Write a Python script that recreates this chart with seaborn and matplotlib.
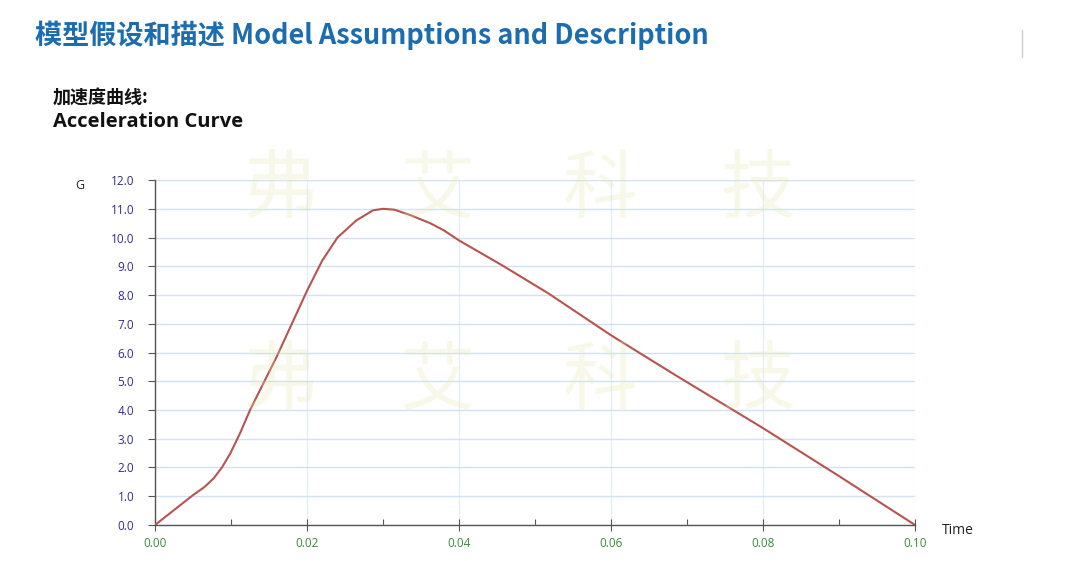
import matplotlib.pyplot as plt
import numpy as np
import pandas as pd
import seaborn as sns

# values
time_s = [0.0, 0.0025, 0.005, 0.0065, 0.0077, 0.0088, 0.0099, 0.0112, 0.0125, 0.016, 0.018, 0.020,
          0.022, 0.024, 0.0265, 0.0287, 0.030, 0.0315, 0.0336, 0.0362, 0.038, 0.040,
          0.0457, 0.0518, 0.060, 0.0688, 0.080, 0.090, 0.100]
accel_g = [0.0, 0.52, 1.04, 1.32, 1.62, 2.0, 2.49, 3.2, 4.0, 5.85, 7.0, 8.15,
           9.2, 10.0, 10.6, 10.95, 11.0, 10.97, 10.78, 10.5, 10.25, 9.9,
           9.03, 8.05, 6.6, 5.16, 3.37, 1.7, 0.0]

y_ticks = np.arange(0, 12.01, 1.0)
x_ticks = [0.00, 0.02, 0.04, 0.06, 0.08, 0.10]
watermark = ["弗", "艾", "科", "技"]

title = "模型假设和描述 Model Assumptions and Description"
subtitle_cn = "加速度曲线:"
subtitle_en = "Acceleration Curve"

sns.set_style("white")
plt.rcParams['font.family'] = ['Noto Sans CJK SC', 'DejaVu Sans']

df = pd.DataFrame({"Time": time_s, "G": accel_g})

fig = plt.figure(figsize=(10.67, 5.61), dpi=100)
ax = fig.add_axes([0.1453, 0.0642, 0.7123, 0.6148])

# faint watermark, semi-transparent so grid shows through
for row_y in [0.66, 0.32]:
    for cx, ch in zip([0.262, 0.41, 0.563, 0.71], watermark):
        fig.text(cx, row_y, ch, fontsize=54, color="#e6e6a8", alpha=0.25, ha="center",
                 va="center", zorder=0)

sns.lineplot(data=df, x="Time", y="G", ax=ax, color="#b85450", linewidth=1.5, zorder=5)

ax.set_xlim(0, 0.10)
ax.set_ylim(0, 12)
ax.set_yticks(y_ticks)
ax.set_yticklabels([f"{v:.1f}" for v in y_ticks], color="#2e2e8c", fontsize=8.5,
                   family=['Open Sans', 'DejaVu Sans'])
ax.set_xticks(x_ticks)
ax.set_xticklabels([f"{v:.2f}" for v in x_ticks], color="#3a8a3a", fontsize=8.5,
                   family=['Open Sans', 'DejaVu Sans'])
ax.set_xticks([0.01, 0.03, 0.05, 0.07, 0.09], minor=True)

ax.grid(True, axis="y", color="#d3e2f2", linewidth=1.0)
ax.grid(True, axis="x", color="#e2edf6", linewidth=0.9)
ax.set_axisbelow(True)
ax.patch.set_alpha(0)

for side in ["top", "right"]:
    ax.spines[side].set_visible(False)
for side in ["left", "bottom"]:
    ax.spines[side].set_color("#555555")
    ax.spines[side].set_linewidth(1.0)

ax.tick_params(axis="y", which="major", direction="out", length=5, width=0.8,
               color="#555555", pad=10, left=True)
ax.tick_params(axis="x", which="major", direction="inout", length=8, width=0.8,
               color="#555555", pad=5, bottom=True)
ax.tick_params(axis="x", which="minor", direction="in", length=4, width=0.8,
               color="#555555", bottom=True)
ax.set_xlabel("")
ax.set_ylabel("")

fig.text(80 / 1067, 1 - 185 / 561, "G", fontsize=9, color="#222222", ha="center", va="center",
         family=['Open Sans', 'DejaVu Sans'])
fig.text(942 / 1067, 1 - 531 / 561, "Time", fontsize=10, color="#222222", ha="left", va="center",
         family=['Open Sans', 'DejaVu Sans'])

fig.text(35 / 1067, 1 - 35 / 561, title, fontsize=19.5, fontweight="bold", color="#1b6db0",
         ha="left", va="center")
fig.text(53 / 1067, 1 - 98 / 561, subtitle_cn, fontsize=13, fontweight="bold", color="#111111",
         ha="left", va="center")
fig.text(53 / 1067, 1 - 122 / 561, subtitle_en, fontsize=14.5, fontweight="bold", color="#111111",
         ha="left", va="center", family=['Open Sans', 'DejaVu Sans'])

# small divider mark at top right
fig.add_artist(plt.Line2D([1022 / 1067, 1022 / 1067], [1 - 30 / 561, 1 - 57 / 561],
                          color="#cccccc", linewidth=1))

fig.savefig("out.png", dpi=100)
